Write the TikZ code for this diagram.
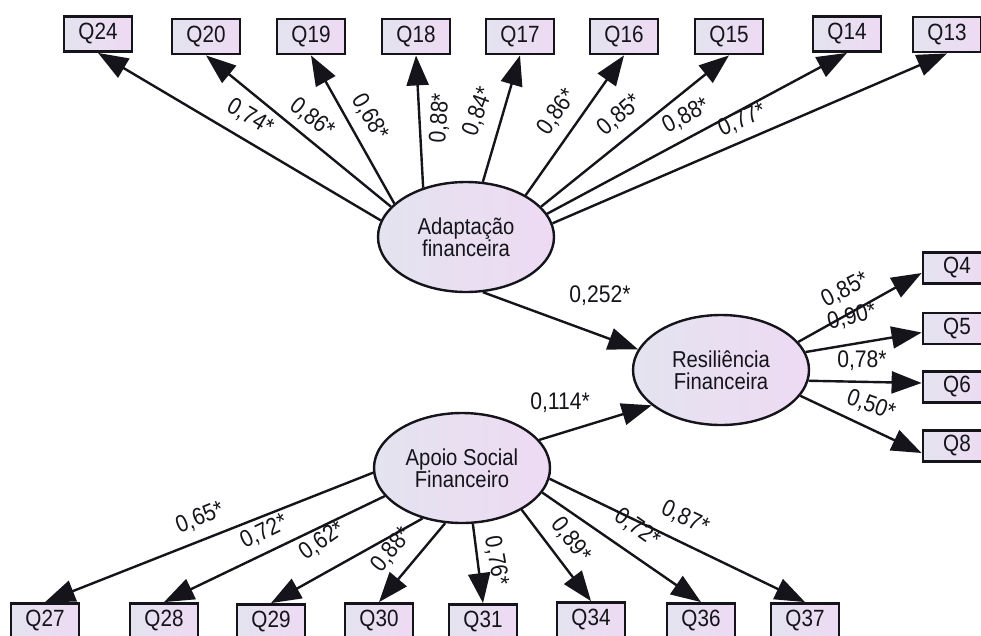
\documentclass[tikz,border=0pt]{standalone}
\usepackage{fontspec}
\setmainfont{Liberation Sans}[FakeStretch=0.88]
\usetikzlibrary{arrows.meta,calc,shapes.geometric}

\definecolor{fillL}{RGB}{228,227,240}
\definecolor{fillR}{RGB}{238,218,243}
\definecolor{ink}{RGB}{20,20,26}

\begin{document}
\begin{tikzpicture}[x=1pt,y=-1pt,
  obs/.style={draw=ink, line width=2.8pt, left color=fillL, right color=fillR,
    minimum width=68pt, minimum height=35pt, inner sep=0pt,
    font=\fontsize{23.5}{24}\selectfont, text=ink},
  obsr/.style={obs, minimum height=31pt},
  lat/.style={ellipse, draw=ink, line width=2.4pt, left color=fillL, right color=fillR,
    minimum width=176pt, minimum height=110pt, inner sep=0pt, align=center,
    font=\fontsize{23}{22}\selectfont, text=ink},
  link/.style={draw=ink, line width=2.4pt, -{Triangle[length=30pt,width=22pt]}},
  coef/.style={font=\fontsize{24}{24}\selectfont, text=ink, inner sep=0pt},
]
\useasboundingbox (0,0) rectangle (981,635);
\clip (0,0) rectangle (981,635);

% latent variables
\node[lat] (adapt) at (466,237) {Adaptação\\financeira};
\node[lat] (resil) at (721,370) {Resiliência\\Financeira};
\node[lat] (apoio) at (462,468) {Apoio Social\\Financeiro};

% indicators of Adaptação financeira
\node[obs] (q24) at (98,34)    {Q24};
\node[obs] (q20) at (206,36.5) {Q20};
\node[obs] (q19) at (311,36.5) {Q19};
\node[obs] (q18) at (416,36.5) {Q18};
\node[obs] (q17) at (520,36.5) {Q17};
\node[obs] (q16) at (624,36.5) {Q16};
\node[obs] (q15) at (729,36.5) {Q15};
\node[obs] (q14) at (847,34)   {Q14};
\node[obs] (q13) at (947,34.5) {Q13};

% indicators of Resiliência Financeira
\node[obsr] (q4) at (957,268)   {Q4};
\node[obsr] (q5) at (957,328.5) {Q5};
\node[obsr] (q6) at (957,387)   {Q6};
\node[obsr] (q8) at (957,446)   {Q8};

% indicators of Apoio Social Financeiro
\node[obs] (q27) at (45,621)  {Q27};
\node[obs] (q28) at (164,621) {Q28};
\node[obs] (q29) at (271,622) {Q29};
\node[obs] (q30) at (379,621) {Q30};
\node[obs] (q31) at (483,622) {Q31};
\node[obs] (q34) at (591,620) {Q34};
\node[obs] (q36) at (701,621) {Q36};
\node[obs] (q37) at (805,621) {Q37};

% loadings, Adaptação financeira
\draw[link] (adapt.169) -- (q24.south);
\draw[link] (adapt.158) -- (q20.south);
\draw[link] (adapt.155) -- (q19.south);
\draw[link] (adapt.131) -- (q18.south);
\draw[link] (adapt.73)  -- (q17.south);
\draw[link] (adapt.35)  -- (q16.south);
\draw[link] (adapt.22)  -- (q15.south);
\draw[link] (adapt.16)  -- (q14.south);
\draw[link] (adapt.9)   -- (q13.south);

% structural paths
\draw[link] (adapt.-73) -- (resil.166);
\draw[link] (apoio.20)  -- (resil.207);

% loadings, Resiliência Financeira
\draw[link] (resil.20)  -- ($(q4.west)+(0,5)$);
\draw[link] (resil.12)  -- ($(q5.west)+(0,4)$);
\draw[link] (resil.-7)  -- ($(q6.west)+(0,-4)$);
\draw[link] (resil.-18) -- ($(q8.west)+(0,7)$);

% loadings, Apoio Social Financeiro
\draw[link] (apoio.183) -- (q27.north);
\draw[link] (apoio.200) -- (q28.north);
\draw[link] (apoio.232) -- (q29.north);
\draw[link] (apoio.253) -- (q30.north);
\draw[link] (apoio.-79) -- (q31.north);
\draw[link] (apoio.-35) -- (q34.north);
\draw[link] (apoio.-17) -- (q36.north);
\draw[link] (apoio.-7)  -- (q37.north);

% coefficients
\node[coef, rotate=-31] (c24) at (250,117) {0,74*};
\node[coef, rotate=-38] (c20) at (312,118) {0,86*};
\node[coef, rotate=-60] (c19) at (370,117) {0,68*};
\node[coef, rotate=86]  (c18) at (440,118) {0,88*};
\node[coef, rotate=70]  (c17) at (478,112) {0,84*};
\node[coef, rotate=55]  (c16) at (557,112) {0,86*};
\node[coef, rotate=41]  (c15) at (620,115) {0,85*};
\node[coef, rotate=28]  (c14) at (686,116) {0,88*};
\node[coef, rotate=24]  (c13) at (742,120) {0,77*};

\node[coef] (cadapt) at (600,296) {0,252*};
\node[coef] (capoio) at (560,403) {0,114*};

\node[coef, rotate=27]  (c4) at (845,290) {0,85*};
\node[coef, rotate=14]  (c5) at (852,317) {0,90*};
\node[coef]             (c6) at (862,361) {0,78*};
\node[coef, rotate=-20] (c8) at (871,405) {0,50*};

\node[coef, rotate=22]  (c27) at (200,518) {0,65*};
\node[coef, rotate=26]  (c28) at (264,532) {0,72*};
\node[coef, rotate=35]  (c29) at (322,541) {0,62*};
\node[coef, rotate=51]  (c30) at (392,550) {0,88*};
\node[coef, rotate=-80] (c31) at (496,561) {0,76*};
\node[coef, rotate=-53] (c34) at (571,540) {0,89*};
\node[coef, rotate=-35] (c36) at (637,528) {0,72*};
\node[coef, rotate=-25] (c37) at (685,518) {0,87*};
\end{tikzpicture}
\end{document}
